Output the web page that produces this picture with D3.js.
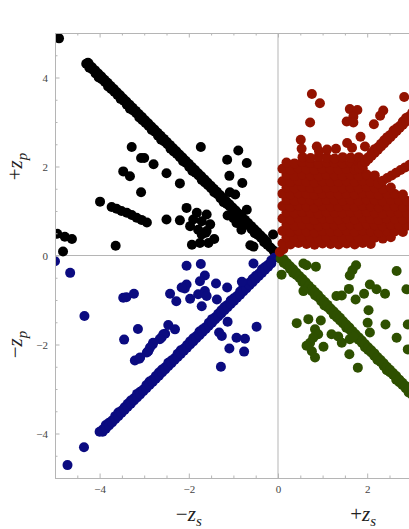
<!DOCTYPE html>
<html>
<head>
<meta charset="utf-8">
<script src="https://cdn.jsdelivr.net/npm/d3@7"></script>
<style>
  body { margin: 0; background: #fff; }
  svg { display: block; }
  text { font-family: 'Liberation Serif', 'Times New Roman', serif; }
</style>
</head>
<body>
<svg id="scatter"></svg>
<script>
// values, [z_s, z_p]
const blackLine = [
  [-4.26, 4.33], [-4.30, 4.31], [-4.23, 4.22], [-4.16, 4.18], [-4.09, 4.09], [-4.02, 4.00], [-3.95, 3.96],
  [-3.88, 3.90], [-3.81, 3.80], [-3.74, 3.74], [-3.67, 3.68], [-3.60, 3.61], [-3.53, 3.52],
  [-3.46, 3.48], [-3.39, 3.39], [-3.32, 3.30], [-3.25, 3.26], [-3.18, 3.20], [-3.11, 3.10],
  [-3.04, 3.04], [-2.97, 2.98], [-2.90, 2.91], [-2.83, 2.82], [-2.76, 2.78], [-2.69, 2.69],
  [-2.62, 2.60], [-2.55, 2.56], [-2.48, 2.50], [-2.41, 2.40], [-2.34, 2.34], [-2.27, 2.28],
  [-2.20, 2.21], [-2.13, 2.12], [-2.06, 2.08], [-1.99, 1.99], [-1.92, 1.90], [-1.85, 1.86],
  [-1.78, 1.80], [-1.71, 1.70], [-1.64, 1.64], [-1.57, 1.58], [-1.50, 1.51], [-1.43, 1.42],
  [-1.36, 1.38], [-1.29, 1.29], [-1.22, 1.20], [-1.15, 1.16], [-1.08, 1.10], [-1.01, 1.00],
  [-0.94, 0.94], [-0.87, 0.88], [-0.80, 0.81], [-0.73, 0.72], [-0.66, 0.68], [-0.59, 0.59],
  [-0.52, 0.50], [-0.45, 0.46], [-0.38, 0.40], [-0.31, 0.30], [-0.24, 0.24], [-0.17, 0.18],
  [-0.10, 0.11]
]
const blackLineEdge = [
  [-4.24, 4.30], [-4.17, 4.23], [-4.10, 4.16], [-4.03, 4.09], [-3.96, 4.02], [-3.89, 3.95], [-3.82, 3.88],
  [-3.75, 3.81], [-3.68, 3.74], [-3.61, 3.67], [-3.54, 3.60], [-3.47, 3.53], [-3.40, 3.46], [-3.33, 3.39],
  [-3.26, 3.32], [-3.19, 3.25], [-3.12, 3.18], [-3.05, 3.11], [-2.98, 3.04], [-2.91, 2.97], [-2.84, 2.90],
  [-2.77, 2.83], [-2.70, 2.76], [-2.63, 2.69], [-2.56, 2.62], [-2.49, 2.55], [-2.42, 2.48], [-2.35, 2.41],
  [-2.28, 2.34], [-2.21, 2.27], [-2.14, 2.20], [-2.07, 2.13], [-2.00, 2.06], [-1.93, 1.99], [-1.86, 1.92],
  [-1.79, 1.85], [-1.72, 1.78], [-1.65, 1.71], [-1.58, 1.64], [-1.51, 1.57], [-1.44, 1.50], [-1.37, 1.43],
  [-1.30, 1.36], [-1.23, 1.29], [-1.16, 1.22], [-1.09, 1.15], [-1.02, 1.08], [-0.95, 1.01], [-0.88, 0.94],
  [-0.81, 0.87], [-0.74, 0.80], [-0.67, 0.73], [-0.60, 0.66], [-0.53, 0.59], [-0.46, 0.52], [-0.39, 0.45],
  [-0.32, 0.38], [-0.25, 0.31]
]
const blackScatter = [
  [-4.91, 4.88], [-3.28, 2.44], [-3.07, 2.19], [-3.00, 2.19], [-2.79, 2.05], [-2.50, 1.85], [-2.20, 1.62],
  [-3.47, 1.89], [-3.32, 1.78], [-3.07, 1.42], [-3.99, 1.21],
  [-3.73, 1.09], [-3.62, 1.05], [-3.51, 1.00], [-3.39, 0.96], [-3.28, 0.91], [-3.17, 0.85], [-3.06, 0.80], [-2.94, 0.74],
  [-2.50, 0.81], [-2.20, 0.79], [-2.05, 1.07], [-3.64, 0.22],
  [-4.95, 0.49], [-4.78, 0.42], [-4.62, 0.37], [-4.82, 0.09],
  [-1.93, 0.24], [-1.75, 0.28], [-1.43, 0.37], [-1.56, 0.28],
  [-1.73, 2.44], [-0.89, 2.36], [-1.14, 2.15], [-0.70, 2.08], [-1.09, 1.79], [-0.80, 1.63],
  [-1.08, 1.42], [-0.96, 1.37], [-0.70, 1.03], [-1.13, 0.90], [-0.91, 0.81], [-0.82, 0.58],
  [-0.11, 0.47], [-0.62, 0.23], [-0.55, 0.20], [-1.00, 0.84], [-0.93, 0.73],
  [-1.82, 0.96], [-1.60, 0.92], [-1.90, 0.81], [-1.71, 0.77], [-1.52, 0.70], [-1.97, 0.66],
  [-1.79, 0.58], [-1.60, 0.55], [-1.71, 0.47], [-1.62, 0.51]
]
const blueLine = [
  [-4.00, -3.96], [-3.93, -3.91], [-3.86, -3.81], [-3.79, -3.76], [-3.72, -3.71], [-3.65, -3.61],
  [-3.58, -3.53], [-3.51, -3.49], [-3.44, -3.41], [-3.37, -3.33], [-3.30, -3.26], [-3.23, -3.21],
  [-3.16, -3.11], [-3.09, -3.06], [-3.02, -3.01], [-2.95, -2.91], [-2.88, -2.83], [-2.81, -2.79],
  [-2.74, -2.71], [-2.67, -2.63], [-2.60, -2.56], [-2.53, -2.51], [-2.46, -2.41], [-2.39, -2.36],
  [-2.32, -2.31], [-2.25, -2.21], [-2.18, -2.13], [-2.11, -2.09], [-2.04, -2.01], [-1.97, -1.93],
  [-1.90, -1.86], [-1.83, -1.81], [-1.76, -1.71], [-1.69, -1.66], [-1.62, -1.61], [-1.55, -1.51],
  [-1.48, -1.43], [-1.41, -1.39], [-1.34, -1.31], [-1.27, -1.23], [-1.20, -1.16], [-1.13, -1.11],
  [-1.06, -1.01], [-0.99, -0.96], [-0.92, -0.91], [-0.85, -0.81], [-0.78, -0.73], [-0.71, -0.69],
  [-0.64, -0.61], [-0.57, -0.53], [-0.50, -0.46], [-0.43, -0.41], [-0.36, -0.31], [-0.29, -0.26],
  [-0.22, -0.21], [-0.15, -0.11], [-0.08, -0.05]
]
const blueLineEdge = [
  [-3.93, -3.96], [-3.86, -3.89], [-3.79, -3.82], [-3.72, -3.75], [-3.65, -3.68], [-3.58, -3.61],
  [-3.51, -3.54], [-3.44, -3.47], [-3.37, -3.40], [-3.30, -3.33], [-3.23, -3.26], [-3.16, -3.19],
  [-3.09, -3.12], [-3.02, -3.05], [-2.95, -2.98], [-2.88, -2.91], [-2.81, -2.84], [-2.74, -2.77],
  [-2.67, -2.70], [-2.60, -2.63], [-2.53, -2.56], [-2.46, -2.49], [-2.39, -2.42], [-2.32, -2.35],
  [-2.25, -2.28], [-2.18, -2.21], [-2.11, -2.14], [-2.04, -2.07], [-1.97, -2.00], [-1.90, -1.93],
  [-1.83, -1.86], [-1.76, -1.79], [-1.69, -1.72], [-1.62, -1.65], [-1.55, -1.58], [-1.48, -1.51],
  [-1.41, -1.44], [-1.34, -1.37], [-1.27, -1.30], [-1.20, -1.23], [-1.13, -1.16], [-1.06, -1.09],
  [-0.99, -1.02], [-0.92, -0.95], [-0.85, -0.88], [-0.78, -0.81], [-0.71, -0.74], [-0.64, -0.67],
  [-0.57, -0.60], [-0.50, -0.53], [-0.43, -0.46], [-0.36, -0.39], [-0.29, -0.32], [-0.22, -0.25],
  [-0.15, -0.18]
]
const blueScatter = [
  [-5.00, -0.13], [-4.66, -0.39], [-4.34, -1.36], [-3.47, -0.95], [-3.40, -0.94], [-3.23, -0.86],
  [-3.14, -1.65], [-3.45, -1.89], [-3.21, -2.36], [-3.11, -2.32], [-2.91, -2.15], [-2.81, -2.00],
  [-2.61, -1.84], [-2.53, -1.76], [-2.46, -1.56], [-2.31, -1.66], [-2.42, -0.86], [-2.28, -1.03],
  [-2.09, -0.74], [-2.05, -0.23], [-1.73, -0.19], [-0.55, -0.18], [-1.64, -0.45], [-1.75, -0.58],
  [-2.05, -0.65], [-2.16, -0.72], [-1.39, -0.63], [-1.14, -0.72], [-0.81, -0.59], [-1.97, -0.97],
  [-1.79, -0.87], [-1.64, -0.80], [-1.60, -0.91], [-1.37, -0.99], [-1.71, -1.14], [-1.13, -1.49],
  [-2.57, -1.77], [-2.65, -1.88], [-2.80, -1.96], [-2.87, -2.07], [-2.94, -2.18], [-3.09, -2.29],
  [-1.32, -1.73], [-1.26, -1.81], [-0.48, -1.60], [-0.93, -1.85], [-0.74, -1.87], [-1.09, -2.09],
  [-0.76, -2.16], [-1.28, -2.50], [-4.35, -4.31], [-4.72, -4.71]
]
const greenLine = [
  [0.06, -0.07], [0.13, -0.17], [0.20, -0.21], [0.27, -0.30], [0.34, -0.39], [0.41, -0.44],
  [0.48, -0.50], [0.55, -0.60], [0.62, -0.66], [0.69, -0.73], [0.76, -0.80], [0.83, -0.89],
  [0.90, -0.94], [0.97, -1.03], [1.04, -1.12], [1.11, -1.16], [1.18, -1.23], [1.25, -1.33],
  [1.32, -1.39], [1.39, -1.46], [1.46, -1.53], [1.53, -1.62], [1.60, -1.66], [1.67, -1.76],
  [1.74, -1.85], [1.81, -1.89], [1.88, -1.96], [1.95, -2.06], [2.02, -2.12], [2.09, -2.18],
  [2.16, -2.26], [2.23, -2.35], [2.30, -2.39], [2.37, -2.48], [2.44, -2.58], [2.51, -2.62],
  [2.58, -2.68], [2.65, -2.79], [2.72, -2.85], [2.79, -2.91], [2.86, -2.98], [2.93, -3.08],
  [3.00, -3.12], [3.07, -3.21], [3.14, -3.31]
]
const greenLineEdge = [
  [0.13, -0.09], [0.20, -0.17], [0.27, -0.24], [0.34, -0.31], [0.41, -0.39], [0.48, -0.46],
  [0.55, -0.53], [0.62, -0.60], [0.69, -0.68], [0.76, -0.75], [0.83, -0.82], [0.90, -0.89],
  [0.97, -0.97], [1.04, -1.04], [1.11, -1.11], [1.18, -1.19], [1.25, -1.26], [1.32, -1.33],
  [1.39, -1.40], [1.46, -1.48], [1.53, -1.55], [1.60, -1.62], [1.67, -1.70], [1.74, -1.77],
  [1.81, -1.84], [1.88, -1.91], [1.95, -1.99], [2.02, -2.06], [2.09, -2.13], [2.16, -2.20],
  [2.23, -2.28], [2.30, -2.35], [2.37, -2.42], [2.44, -2.50], [2.51, -2.57], [2.58, -2.64],
  [2.65, -2.71], [2.72, -2.79], [2.79, -2.86], [2.86, -2.93], [2.93, -3.01], [3.00, -3.08],
  [3.07, -3.15], [3.14, -3.22]
]
const greenScatter = [
  [0.08, -0.43], [0.57, -0.18], [0.64, -0.22], [0.85, -0.25], [0.57, -0.80], [1.75, -0.22],
  [1.67, -0.33], [1.61, -0.45], [2.66, -0.35], [2.88, -0.76], [2.06, -0.65], [2.21, -0.76],
  [2.40, -0.86], [1.59, -0.75], [1.43, -0.90], [1.31, -0.91], [1.93, -0.86], [1.74, -0.99],
  [2.03, -1.23], [2.01, -1.51], [2.06, -1.73], [2.41, -1.55], [2.66, -1.85], [2.91, -1.55],
  [2.91, -2.11], [0.42, -1.52], [0.68, -1.43], [0.96, -1.46], [0.83, -1.66], [0.90, -1.77],
  [0.79, -1.85], [0.72, -1.96], [0.64, -2.03], [0.76, -2.15], [0.83, -2.29], [1.02, -2.05],
  [1.20, -1.77], [1.35, -1.82], [1.43, -1.96], [1.61, -1.88], [1.69, -1.82], [1.60, -2.22],
  [1.79, -2.52]
]
const redLine = [
  [1.75, 1.96], [1.82, 2.01], [1.89, 2.11], [1.96, 2.16], [2.03, 2.21], [2.10, 2.31], [2.17, 2.39],
  [2.24, 2.43], [2.31, 2.51], [2.38, 2.59], [2.45, 2.66], [2.52, 2.71], [2.59, 2.81], [2.66, 2.86],
  [2.73, 2.91], [2.80, 3.01], [2.87, 3.09], [2.94, 3.13], [3.01, 3.21], [3.08, 3.29],
  [1.82, 1.96], [1.89, 2.03], [1.96, 2.10], [2.03, 2.17], [2.10, 2.24], [2.17, 2.31], [2.24, 2.38],
  [2.31, 2.45], [2.38, 2.52], [2.45, 2.59], [2.52, 2.66], [2.59, 2.73], [2.66, 2.80], [2.73, 2.87],
  [2.80, 2.94], [2.87, 3.01], [2.94, 3.08], [3.01, 3.15], [3.08, 3.22],
  [2.25, 1.62], [2.35, 1.68], [2.45, 1.74], [2.55, 1.80], [2.65, 1.86], [2.75, 1.92],
  [2.85, 1.98], [2.95, 2.04], [3.05, 2.10]
]
const redCloud = [
  [0.04, 0.08], [0.12, 0.14],
  [0.10, 0.27], [0.28, 0.25], [0.46, 0.28], [0.64, 0.26], [0.82, 0.24], [1.00, 0.27], [1.18, 0.26],
  [1.36, 0.25], [1.54, 0.27], [1.72, 0.25], [1.90, 0.28], [2.08, 0.26],
  [0.19, 0.41], [0.37, 0.39], [0.55, 0.42], [0.73, 0.40], [0.91, 0.38], [1.09, 0.41], [1.27, 0.40],
  [1.45, 0.39], [1.63, 0.41], [1.81, 0.39], [1.99, 0.42], [2.17, 0.40], [2.35, 0.38], [2.53, 0.41],
  [0.10, 0.55], [0.28, 0.53], [0.46, 0.56], [0.64, 0.54], [0.82, 0.52], [1.00, 0.55], [1.18, 0.54],
  [1.36, 0.53], [1.54, 0.55], [1.72, 0.53], [1.90, 0.56], [2.08, 0.54], [2.26, 0.52], [2.44, 0.55],
  [2.62, 0.54], [2.80, 0.53],
  [0.19, 0.69], [0.37, 0.67], [0.55, 0.70], [0.73, 0.68], [0.91, 0.66], [1.09, 0.69], [1.27, 0.68],
  [1.45, 0.67], [1.63, 0.69], [1.81, 0.67], [1.99, 0.70], [2.17, 0.68], [2.35, 0.66], [2.53, 0.69],
  [2.71, 0.68], [2.89, 0.67],
  [0.10, 0.83], [0.28, 0.81], [0.46, 0.84], [0.64, 0.82], [0.82, 0.80], [1.00, 0.83], [1.18, 0.82],
  [1.36, 0.81], [1.54, 0.83], [1.72, 0.81], [1.90, 0.84], [2.08, 0.82], [2.26, 0.80], [2.44, 0.83],
  [2.62, 0.82], [2.80, 0.81], [2.98, 0.83],
  [0.19, 0.97], [0.37, 0.95], [0.55, 0.98], [0.73, 0.96], [0.91, 0.94], [1.09, 0.97], [1.27, 0.96],
  [1.45, 0.95], [1.63, 0.97], [1.81, 0.95], [1.99, 0.98], [2.17, 0.96], [2.35, 0.94], [2.53, 0.97],
  [2.71, 0.96], [2.89, 0.95], [3.07, 0.97],
  [0.10, 1.11], [0.28, 1.09], [0.46, 1.12], [0.64, 1.10], [0.82, 1.08], [1.00, 1.11], [1.18, 1.10],
  [1.36, 1.09], [1.54, 1.11], [1.72, 1.09], [1.90, 1.12], [2.08, 1.10], [2.26, 1.08], [2.44, 1.11],
  [2.62, 1.10], [2.80, 1.09], [2.98, 1.11],
  [0.19, 1.25], [0.37, 1.23], [0.55, 1.26], [0.73, 1.24], [0.91, 1.22], [1.09, 1.25], [1.27, 1.24],
  [1.45, 1.23], [1.63, 1.25], [1.81, 1.23], [1.99, 1.26], [2.17, 1.24], [2.35, 1.22], [2.53, 1.25],
  [2.71, 1.24], [2.89, 1.23], [3.07, 1.25],
  [0.10, 1.39], [0.28, 1.37], [0.46, 1.40], [0.64, 1.38], [0.82, 1.36], [1.00, 1.39], [1.18, 1.38],
  [1.36, 1.37], [1.54, 1.39], [1.72, 1.37], [1.90, 1.40], [2.08, 1.38], [2.26, 1.36], [2.44, 1.39],
  [2.62, 1.38], [2.80, 1.37],
  [0.19, 1.53], [0.37, 1.51], [0.55, 1.54], [0.73, 1.52], [0.91, 1.50], [1.09, 1.53], [1.27, 1.52],
  [1.45, 1.51], [1.63, 1.53], [1.81, 1.51], [1.99, 1.54], [2.17, 1.52], [2.35, 1.50], [2.53, 1.53],
  [0.10, 1.67], [0.28, 1.65], [0.46, 1.68], [0.64, 1.66], [0.82, 1.64], [1.00, 1.67], [1.18, 1.66],
  [1.36, 1.65], [1.54, 1.67], [1.72, 1.65], [1.90, 1.68], [2.08, 1.66], [2.26, 1.64],
  [0.19, 1.81], [0.37, 1.79], [0.55, 1.82], [0.73, 1.80], [0.91, 1.78], [1.09, 1.81], [1.27, 1.80],
  [1.45, 1.79], [1.63, 1.81], [1.81, 1.79], [1.99, 1.82], [2.17, 1.80],
  [0.10, 1.95], [0.28, 1.93], [0.46, 1.96], [0.64, 1.94], [0.82, 1.92], [1.00, 1.95], [1.18, 1.94],
  [1.36, 1.93], [1.54, 1.95], [1.72, 1.93], [1.90, 1.96],
  [0.19, 2.09], [0.37, 2.07], [0.55, 2.10], [0.73, 2.08], [0.91, 2.06], [1.09, 2.09], [1.27, 2.08],
  [1.45, 2.07], [1.63, 2.09], [1.81, 2.07],
  [0.55, 2.21], [0.73, 2.19], [0.91, 2.22], [1.09, 2.20], [1.27, 2.18], [1.45, 2.21], [1.63, 2.20],
  [1.81, 2.21],
  [0.51, 2.60], [0.53, 2.40], [0.87, 2.45], [0.92, 2.34], [1.10, 2.38], [1.30, 2.40], [1.55, 2.53],
  [1.66, 2.42], [1.85, 2.67], [1.95, 2.45], [0.76, 3.63], [0.94, 3.42], [0.72, 2.99],
  [1.61, 3.29], [1.78, 3.27], [1.69, 3.12], [1.54, 3.01], [1.69, 2.99], [2.36, 3.26], [2.29, 3.14],
  [2.15, 2.95], [2.83, 3.56]
]
const majorTicks = [-4, -2, 0, 2, 4]
const tickLabels = [-4, -2, 0, 2]
const minorTicks = [-5, -4.5, -3.5, -3, -2.5, -1.5, -1, -0.5, 0.5, 1, 1.5, 2.5, 3, 3.5, 4.5, 5]

const width = 409
const height = 529
const frame = { left: 55, right: 501, top: 33, bottom: 478 }
const radius = 5
const gray = '#b5b5b5'

const svg = d3.select('#scatter')
  .attr('width', width)
  .attr('height', height)

const x = d3.scaleLinear().domain([-5, 5]).range([frame.left, frame.right])
const y = d3.scaleLinear().domain([-5, 5]).range([frame.bottom, frame.top])

svg.append('defs')
  .append('clipPath')
  .attr('id', 'plot-clip')
  .append('rect')
  .attr('x', frame.left)
  .attr('y', frame.top)
  .attr('width', frame.right - frame.left)
  .attr('height', frame.bottom - frame.top)

// zero lines
svg.append('line')
  .attr('x1', x(0)).attr('x2', x(0))
  .attr('y1', frame.top).attr('y2', frame.bottom)
  .attr('stroke', gray)
svg.append('line')
  .attr('x1', frame.left).attr('x2', frame.right)
  .attr('y1', y(0)).attr('y2', y(0))
  .attr('stroke', gray)

const plot = svg.append('g').attr('clip-path', 'url(#plot-clip)')

function drawPoints(data, color) {
  plot.append('g')
    .selectAll('circle')
    .data(data)
    .enter()
    .append('circle')
    .attr('cx', d => x(d[0]))
    .attr('cy', d => y(d[1]))
    .attr('r', radius)
    .attr('fill', color)
}

drawPoints(blackLine.concat(blackLineEdge, blackScatter), '#000000')
drawPoints(blueLine.concat(blueLineEdge, blueScatter), '#0b0b80')
drawPoints(greenLine.concat(greenLineEdge, greenScatter), '#2e5000')
drawPoints(redCloud.concat(redLine), '#931200')

// frame: ticks point inwards, labels only bottom and left
function frameAxis(axis, transform, values, size, labels) {
  const g = svg.append('g')
    .attr('transform', transform)
    .call(axis.tickValues(values).tickSizeInner(size).tickSizeOuter(0)
      .tickPadding(labels ? 7 : 0)
      .tickFormat(labels ? d3.format('') : ''))
  g.selectAll('path, line').attr('stroke', gray)
  g.selectAll('text')
    .attr('font-size', 11)
    .attr('fill', '#444')
    .attr('font-family', "'Liberation Serif', serif")
  return g
}

frameAxis(d3.axisBottom(x), `translate(0,${frame.bottom})`, majorTicks, -4.5, false)
frameAxis(d3.axisBottom(x), `translate(0,${frame.bottom})`, tickLabels, 0, true)
frameAxis(d3.axisBottom(x), `translate(0,${frame.bottom})`, minorTicks, -2.5, false)
frameAxis(d3.axisTop(x), `translate(0,${frame.top})`, majorTicks, -4.5, false)
frameAxis(d3.axisTop(x), `translate(0,${frame.top})`, minorTicks, -2.5, false)
frameAxis(d3.axisLeft(y), `translate(${frame.left},0)`, majorTicks, -4.5, true)
frameAxis(d3.axisLeft(y), `translate(${frame.left},0)`, minorTicks, -2.5, false)
frameAxis(d3.axisRight(y), `translate(${frame.right},0)`, majorTicks, -4.5, false)

// axis labels like "+z_p"
function axisLabel(sign, sub, px, py, rotate) {
  const t = svg.append('text')
    .attr('transform', `translate(${px},${py})` + (rotate ? ' rotate(-90)' : ''))
    .attr('text-anchor', 'middle')
    .attr('font-size', 21)
    .attr('fill', '#222')
  t.append('tspan').text(sign)
  t.append('tspan').text('z').attr('font-style', 'italic')
  t.append('tspan').text(sub).attr('font-style', 'italic')
    .attr('font-size', 15).attr('dy', 5)
}

axisLabel('+', 'p', 22, y(2), true)
axisLabel('\u2212', 'p', 22, y(-2), true)
axisLabel('\u2212', 's', x(-2), 521, false)
axisLabel('+', 's', x(2) - 4, 521, false)
</script>
</body>
</html>
